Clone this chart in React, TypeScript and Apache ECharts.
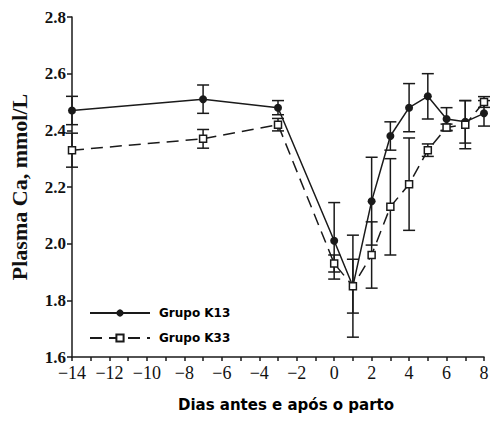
import { useEffect, useRef } from 'react';
import * as echarts from 'echarts';

const days = [-14, -7, -3, 0, 1, 2, 3, 4, 5, 6, 7, 8];
const k13 = [2.47, 2.51, 2.48, 2.01, 1.85, 2.15, 2.38, 2.48, 2.52, 2.44, 2.43, 2.46];
const k13Err = [0.05, 0.05, 0.025, 0.135, 0.18, 0.155, 0.05, 0.085, 0.08, 0.04, 0.075, 0.045];
const k33 = [2.33, 2.37, 2.42, 1.93, 1.85, 1.96, 2.13, 2.21, 2.33, 2.41, 2.42, 2.5];
const k33Err = [0.06, 0.033, 0.022, 0.03, 0.095, 0.117, 0.17, 0.163, 0.022, 0.012, 0.085, 0.019];

const INK = '#1a1a1a';
const SERIF = '"Liberation Serif", "Times New Roman", serif';
const HEAVY = '"DejaVu Sans", Arial, sans-serif';

const errData = (vals: number[], errs: number[]) =>
  days.map((d, i) => [d, vals[i] - errs[i], vals[i] + errs[i]]);

const errorSeries = (name: string, vals: number[], errs: number[]) => ({
  name,
  type: 'custom',
  z: 1,
  data: errData(vals, errs),
  renderItem: (_params: any, api: any) => {
    const x = api.value(0);
    const lo = api.coord([x, api.value(1)]);
    const hi = api.coord([x, api.value(2)]);
    const cap = 6;
    const style = { stroke: INK, lineWidth: 1.5 };
    return {
      type: 'group',
      children: [
        { type: 'line', shape: { x1: lo[0], y1: lo[1], x2: hi[0], y2: hi[1] }, style },
        { type: 'line', shape: { x1: hi[0] - cap, y1: hi[1], x2: hi[0] + cap, y2: hi[1] }, style },
        { type: 'line', shape: { x1: lo[0] - cap, y1: lo[1], x2: lo[0] + cap, y2: lo[1] }, style },
      ],
    };
  },
});

export default function App() {
  const chartRef = useRef<HTMLDivElement>(null);
  useEffect(() => {
    if (!chartRef.current) return;
    const chart = echarts.init(chartRef.current, undefined, { renderer: 'svg' });
    chart.setOption({
      animation: false,
      backgroundColor: '#fff',
      grid: { left: 72, right: 15, top: 17, bottom: 64 },
      legend: {
        data: ['Grupo K13', 'Grupo K33'],
        orient: 'vertical',
        left: 84,
        top: 302,
        itemWidth: 60,
        itemHeight: 9,
        itemGap: 13,
        textStyle: { fontFamily: HEAVY, fontWeight: 'bold', fontSize: 12, color: '#000', padding: [0, 0, 0, 4] },
      },
      xAxis: {
        type: 'value',
        min: -14,
        max: 8,
        interval: 2,
        name: 'Dias antes e após o parto',
        nameLocation: 'middle',
        nameGap: 40,
        nameTextStyle: { fontFamily: HEAVY, fontWeight: 'bold', fontSize: 15, color: '#000', padding: [0, 0, 0, 16] },
        axisLine: { onZero: false, lineStyle: { color: INK, width: 1.5 } },
        axisTick: { inside: false, length: 4, lineStyle: { color: INK, width: 1.5 } },
        minorTick: { show: true, splitNumber: 2, length: 4, lineStyle: { color: INK, width: 1.5 } },
        splitLine: { show: false },
        axisLabel: {
          fontFamily: SERIF,
          fontSize: 18,
          color: '#111',
          margin: 7,
          formatter: (v: number) => String(v).replace('-', '\u2212'),
        },
      },
      yAxis: {
        type: 'value',
        min: 1.6,
        max: 2.8,
        interval: 0.2,
        name: 'Plasma Ca, mmol/L',
        nameLocation: 'middle',
        nameRotate: 90,
        nameGap: 42,
        nameTextStyle: { fontFamily: SERIF, fontWeight: 'bold', fontSize: 22, color: '#111' },
        axisLine: { show: true, onZero: false, lineStyle: { color: INK, width: 1.5 } },
        axisTick: { show: true, length: 5, lineStyle: { color: INK, width: 1.5 } },
        splitLine: { show: false },
        axisLabel: {
          fontFamily: SERIF,
          fontWeight: 'bold',
          fontSize: 17,
          color: '#111',
          margin: 6,
          formatter: (v: number) => v.toFixed(1),
        },
      },
      series: [
        errorSeries('err13', k13, k13Err),
        errorSeries('err33', k33, k33Err),
        {
          name: 'Grupo K13',
          type: 'line',
          z: 3,
          data: days.map((d, i) => [d, k13[i]]),
          symbol: 'circle',
          symbolSize: 8,
          itemStyle: { color: INK },
          lineStyle: { color: INK, width: 1.5 },
        },
        {
          name: 'Grupo K33',
          type: 'line',
          z: 4,
          data: days.map((d, i) => [d, k33[i]]),
          symbol: 'rect',
          symbolSize: 7,
          itemStyle: { color: '#fff', borderColor: INK, borderWidth: 1.5 },
          lineStyle: { color: INK, width: 1.5, type: [12, 7] },
        },
      ],
    });
    const resize = () => chart.resize();
    window.addEventListener('resize', resize);
    return () => {
      chart.dispose();
      window.removeEventListener('resize', resize);
    };
  }, []);
  return <div ref={chartRef} style={{ position: 'fixed', left: 0, top: 0, width: 499, height: 421 }} />;
}
